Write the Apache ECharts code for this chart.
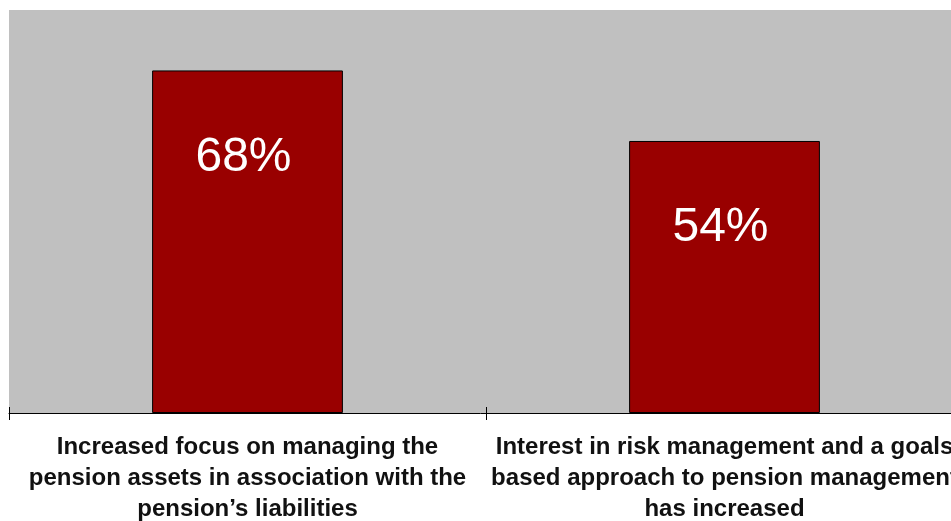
<!DOCTYPE html>
<html>
<head>
<meta charset="utf-8">
<script src="https://cdn.jsdelivr.net/npm/echarts@6/dist/echarts.min.js"></script>
<style>html,body{margin:0;padding:0;background:#fff;}#c{width:951px;height:521px;}</style>
</head>
<body>
<div id="c"></div>
<script>
const categories = [
  "Increased focus on managing the\npension assets in association with the\npension\u2019s liabilities",
  "Interest in risk management and a goals\nbased approach to pension management\nhas increased"
];
const values = [68, 54];

const chart = echarts.init(document.getElementById('c'));
chart.setOption({
  animation: false,
  grid: {left: 9, top: 10, right: -12, bottom: 108, outerBoundsMode: 'none', containLabel: false, show: true, backgroundColor: '#c0c0c0', borderWidth: 0},
  xAxis: [{
    type: 'category', data: categories,
    axisLine: {lineStyle: {color: '#000', width: 1}},
    axisTick: {show: true, length: 7, lineStyle: {color: '#000'}},
    axisLabel: {fontFamily: 'Liberation Sans, Arial', fontWeight: 'bold', fontSize: 24, color: '#111', lineHeight: 31, margin: 19, interval: 0, hideOverlap: false}
  }, {
    type: 'category', data: categories, position: 'bottom',
    axisLine: {show: false},
    axisTick: {show: true, inside: true, length: 6, lineStyle: {color: '#000'}},
    axisLabel: {show: false}
  }],
  yAxis: {type: 'value', min: 0, max: 80, show: false, splitLine: {show: false}},
  series: [{
    type: 'bar', data: values, barWidth: '40%',
    itemStyle: {color: '#990000', borderColor: '#000', borderWidth: 1},
    label: {show: true, position: 'insideTop', distance: 63, offset: [-4, 0], formatter: '{c}%', color: '#fff', fontSize: 48, fontFamily: 'Liberation Sans, Arial'}
  }]
});
</script>
</body>
</html>
